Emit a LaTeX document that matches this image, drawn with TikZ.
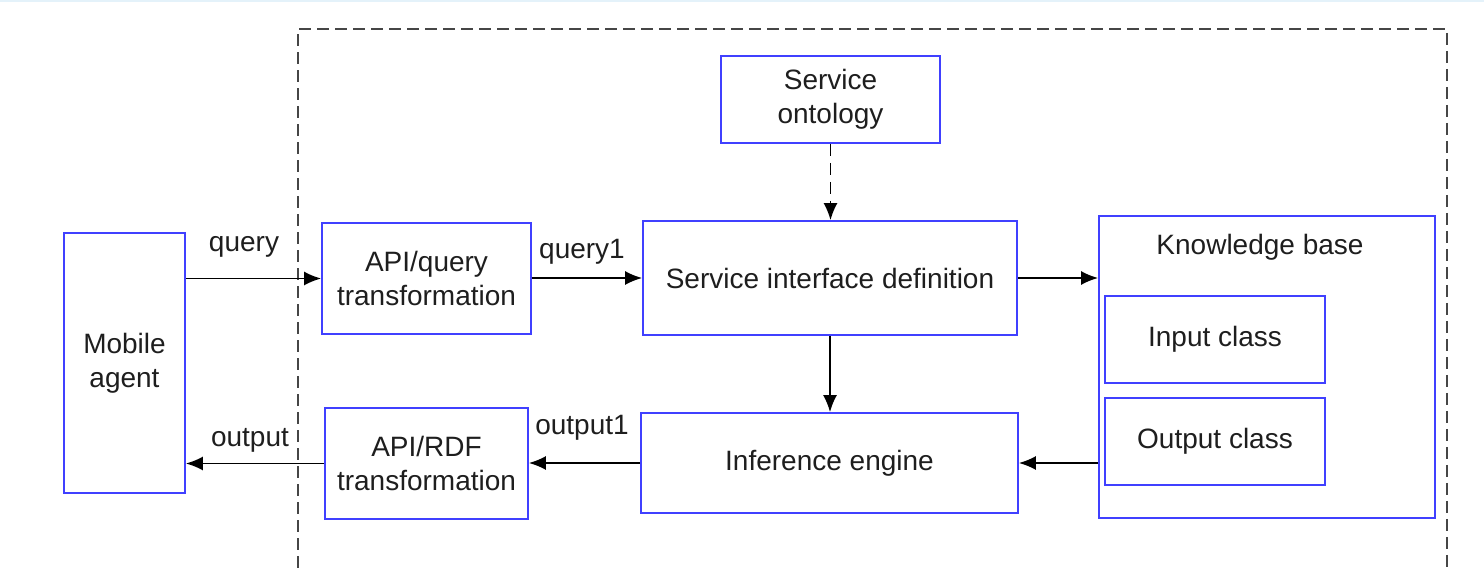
\documentclass[tikz,border=0pt]{standalone}
\usepackage{fontspec}
\setmainfont{Liberation Sans}
\usetikzlibrary{arrows.meta}
\definecolor{boxblue}{RGB}{64,64,255}
\definecolor{framegray}{RGB}{70,70,70}
\definecolor{inktext}{RGB}{30,30,30}
\definecolor{topline}{RGB}{228,242,250}
\begin{document}
\begin{tikzpicture}[x=0.5pt,y=-0.5pt,
  box/.style={draw=boxblue,line width=0.9pt,align=center,text=inktext,
    font=\fontsize{14}{17}\selectfont,inner sep=0pt},
  lbl/.style={text=inktext,font=\fontsize{14}{17}\selectfont,inner sep=0pt},
  flow/.style={draw=black,line width=0.85pt,-{Latex[length=8.5pt,width=7pt]}},
  frame/.style={draw=framegray,line width=1pt,dash pattern=on 6pt off 3pt}]
\useasboundingbox (0,0) rectangle (1484,571);
\clip (0,0) rectangle (1484,571);
\draw[topline,line width=1pt] (0,1) -- (1484,1);
% system boundary
\draw[frame] (298,640) -- (298,29) -- (1447,29) -- (1447,640);
% blocks
\node[box,minimum width=60.5pt,minimum height=130pt] (mob) at (124.5,363) {Mobile\\agent};
\node[box,minimum width=104.5pt,minimum height=55.5pt] (aq) at (426.5,278.5) {API/query\\transformation};
\node[box,minimum width=109.5pt,minimum height=43.5pt] (onto) at (830.5,99.5) {Service\\ontology};
\node[box,minimum width=187pt,minimum height=57pt] (sid) at (830,278) {Service interface definition};
\node[box,minimum width=168pt,minimum height=151pt] (kb) at (1267,367) {};
\node[lbl] (kbt) at (1260,247) {Knowledge base};
\node[box,minimum width=110pt,minimum height=43.5pt] (inc) at (1215,339.5) {Input class};
\node[box,minimum width=110pt,minimum height=43.5pt] (outc) at (1215,441.5) {Output class};
\node[box,minimum width=188.5pt,minimum height=50pt] (ie) at (829.5,463) {Inference engine};
\node[box,minimum width=101.5pt,minimum height=55.5pt] (ar) at (426.5,463.5) {API/RDF\\transformation};
% connectors
\draw[flow] (mob.east |- aq.west) -- (aq.west);
\draw[flow] (aq.east |- sid.west) -- (sid.west);
\draw[flow] (sid.east) -- (kb.west |- sid.east);
\draw[flow,dash pattern=on 6pt off 3.5pt] (onto.south) -- (onto.south |- sid.north);
\draw[flow] (sid.south) -- (sid.south |- ie.north);
\draw[flow] (kb.west |- ie.east) -- (ie.east);
\draw[flow] (ie.west) -- (ar.east |- ie.west);
\draw[flow] (ar.west) -- (mob.east |- ar.west);
% connector labels
\node[lbl] (lq) at (244,247) {query};
\node[lbl] (lq1) at (582,252) {query1};
\node[lbl] (lo1) at (582,428) {output1};
\node[lbl] (lo) at (250,440) {output};
\end{tikzpicture}
\end{document}
